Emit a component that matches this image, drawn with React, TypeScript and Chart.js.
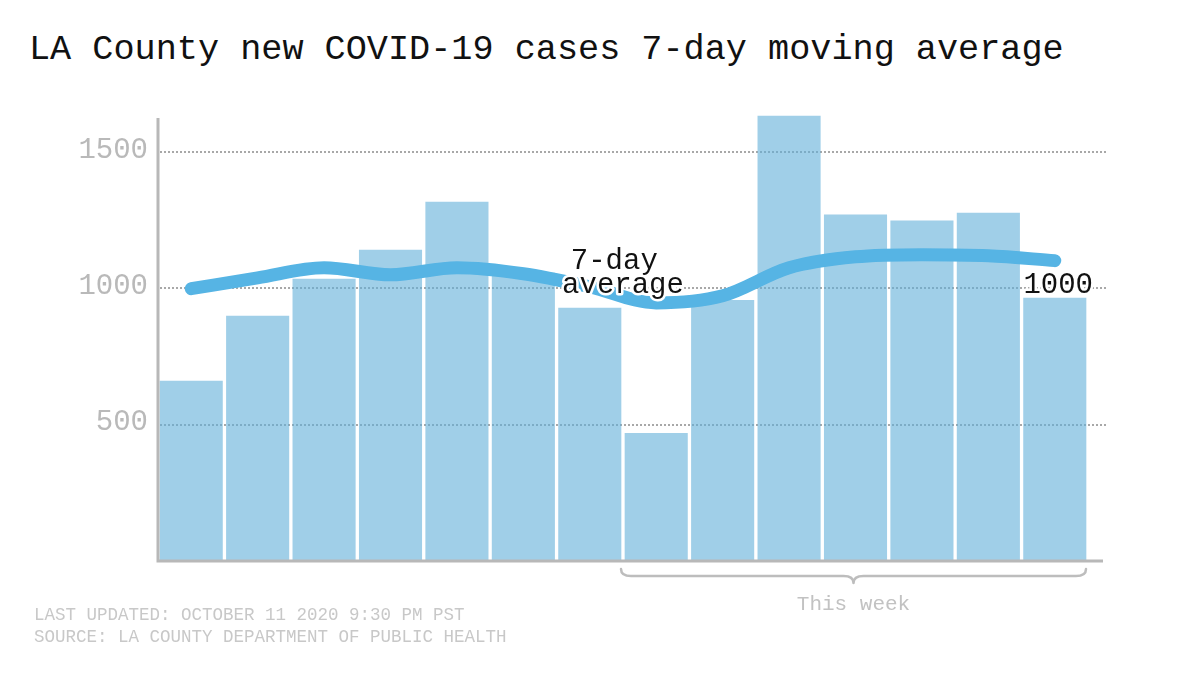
import React, { useEffect, useRef } from "react";
import { Chart, registerables } from "chart.js";

Chart.register(...registerables);

const days = [
  "Sep 28", "Sep 29", "Sep 30", "Oct 1", "Oct 2", "Oct 3", "Oct 4",
  "Oct 5", "Oct 6", "Oct 7", "Oct 8", "Oct 9", "Oct 10", "Oct 11",
];
const newCases = [661, 900, 1036, 1142, 1318, 1058, 929, 470, 958, 1634, 1271, 1249, 1278, 966];
const movingAverage = [999, 1039, 1076, 1050, 1076, 1054, 1006, 947, 973, 1076, 1116, 1124, 1120, 1102];
const yTicks = [500, 1000, 1500];
const yMax = 1640;
const avgLabelLines = ["7-day ", "average"];
const lastAvgLabel = "1000";
const weekLabel = "This week";
const titleText = "LA County new COVID-19 cases 7-day moving average";
const footerLines = [
  "LAST UPDATED: OCTOBER 11 2020 9:30 PM PST",
  "SOURCE: LA COUNTY DEPARTMENT OF PUBLIC HEALTH",
];

const MONO = '"Liberation Mono", "DejaVu Sans Mono", monospace';
const AXIS_GRAY = "#b8b8b8";

const decorPlugin = {
  id: "decor",
  beforeDatasetsDraw(chart: any) {
    const { ctx, scales } = chart;
    const y = scales.y;
    const area = chart.chartArea;
    ctx.save();
    ctx.strokeStyle = "#a8a8a8";
    ctx.lineWidth = 2;
    ctx.setLineDash([2, 2]);
    for (const v of yTicks) {
      const py = Math.round(y.getPixelForValue(v));
      ctx.beginPath();
      ctx.moveTo(area.left + 2, py);
      ctx.lineTo(area.right + 20, py);
      ctx.stroke();
    }
    ctx.restore();
  },
  afterDatasetsDraw(chart: any) {
    const { ctx, scales } = chart;
    const x = scales.x;
    const y = scales.y;
    const area = chart.chartArea;
    const slot = x.getPixelForValue(1) - x.getPixelForValue(0);
    ctx.save();
    // axes
    ctx.strokeStyle = AXIS_GRAY;
    ctx.lineWidth = 3;
    ctx.beginPath();
    ctx.moveTo(area.left, area.top + 4);
    ctx.lineTo(area.left, area.bottom + 1.5);
    ctx.moveTo(area.left - 1.5, area.bottom);
    ctx.lineTo(area.right + 15, area.bottom);
    ctx.stroke();

    // 7-day average label
    const y1000 = y.getPixelForValue(1000);
    const bx = (x.getPixelForValue(6) + x.getPixelForValue(7)) / 2;
    ctx.font = `29px ${MONO}`;
    ctx.textAlign = "center";
    ctx.textBaseline = "alphabetic";
    ctx.lineJoin = "round";
    ctx.lineWidth = 5;
    ctx.strokeStyle = "#ffffff";
    ctx.fillStyle = "#111111";
    const lines: [string, number][] = [
      [avgLabelLines[0], y1000 - 19],
      [avgLabelLines[1], y1000 + 5],
    ];
    for (const [t, py] of lines) {
      ctx.strokeText(t, bx, py);
      ctx.fillText(t, bx, py);
    }
    // last value label
    const lastRight = x.getPixelForValue(days.length - 1) + slot / 2 + 5;
    ctx.textAlign = "right";
    ctx.strokeText(lastAvgLabel, lastRight, y1000 + 5);
    ctx.fillText(lastAvgLabel, lastRight, y1000 + 5);

    // bracket for this week
    const L = x.getPixelForValue(7) - slot / 2 - 2;
    const R = x.getPixelForValue(days.length - 1) + slot / 2 - 2;
    const C = (L + R) / 2;
    const top = area.bottom + 8;
    const mid = area.bottom + 15;
    const tip = area.bottom + 22;
    ctx.strokeStyle = "#bdbdbd";
    ctx.lineWidth = 2.5;
    ctx.lineCap = "round";
    ctx.beginPath();
    ctx.moveTo(L, top);
    ctx.quadraticCurveTo(L, mid, L + 10, mid);
    ctx.lineTo(C - 10, mid);
    ctx.quadraticCurveTo(C, mid, C, tip);
    ctx.quadraticCurveTo(C, mid, C + 10, mid);
    ctx.lineTo(R - 10, mid);
    ctx.quadraticCurveTo(R, mid, R, top);
    ctx.stroke();

    ctx.font = `21px ${MONO}`;
    ctx.textAlign = "center";
    ctx.fillStyle = "#c2c2c2";
    ctx.fillText(weekLabel, C, area.bottom + 49);
    ctx.restore();
  },
};

export default function App() {
  const canvasRef = useRef<HTMLCanvasElement | null>(null);

  useEffect(() => {
    if (!canvasRef.current) return;
    const chart = new Chart(canvasRef.current, {
      type: "bar",
      data: {
        labels: days,
        datasets: [
          {
            type: "bar",
            label: "New cases",
            data: newCases,
            backgroundColor: "rgba(97,175,217,0.6)",
            borderWidth: 0,
            categoryPercentage: 1,
            barPercentage: 0.95,
            order: 2,
          } as any,
          {
            type: "line",
            label: "7-day average",
            data: movingAverage,
            borderColor: "#56b4e4",
            borderWidth: 13,
            pointRadius: 0,
            cubicInterpolationMode: "monotone",
            borderCapStyle: "round",
            borderJoinStyle: "round",
            order: 1,
            clip: false,
          } as any,
        ],
      },
      options: {
        responsive: false,
        animation: false,
        devicePixelRatio: 1,
        layout: { padding: { top: 114, right: 112, bottom: 115, left: 0 } },
        plugins: { legend: { display: false }, tooltip: { enabled: false } },
        scales: {
          x: { display: false, offset: true },
          y: {
            min: 0,
            max: yMax,
            afterFit: (s: any) => {
              s.width = 158;
            },
            afterBuildTicks: (s: any) => {
              s.ticks = yTicks.map((v) => ({ value: v }));
            },
            grid: { display: false, drawTicks: false },
            border: { display: false },
            ticks: {
              color: "#b9b9b9",
              padding: 10,
              labelOffset: -2,
              font: { family: MONO, size: 29 },
              callback: (v: any) => String(v),
            },
          },
        },
      } as any,
      plugins: [decorPlugin],
    });
    return () => chart.destroy();
  }, []);

  return (
    <div style={{ position: "fixed", left: 0, top: 0, width: 1200, height: 676, background: "#fff" }}>
      <div
        style={{
          position: "absolute",
          left: 29,
          top: 32,
          fontFamily: MONO,
          fontSize: 35.2,
          lineHeight: "36px",
          color: "#111",
          whiteSpace: "nowrap",
        }}
      >
        {titleText}
      </div>
      <canvas ref={canvasRef} width={1200} height={676} style={{ position: "absolute", left: 0, top: 0 }} />
      <div
        style={{
          position: "absolute",
          left: 34,
          top: 604,
          fontFamily: MONO,
          fontSize: 17.5,
          lineHeight: "22px",
          color: "#c8c8c8",
          whiteSpace: "nowrap",
        }}
      >
        {footerLines.map((l) => (
          <div key={l}>{l}</div>
        ))}
      </div>
    </div>
  );
}
